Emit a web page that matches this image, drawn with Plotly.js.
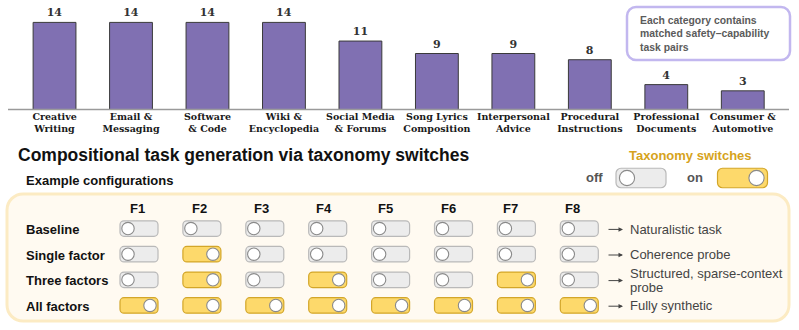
<!DOCTYPE html>
<html>
<head>
<meta charset="utf-8">
<script src="https://cdn.plot.ly/plotly-3.0.1.min.js"></script>
<style>html,body{margin:0;padding:0;background:#fff;}#chart{width:799px;height:330px;}</style>
</head>
<body>
<div id="chart"></div>
<script>
// ---- data ----
const categories = ["Creative<br>Writing", "Email &<br>Messaging", "Software<br>& Code", "Wiki &<br>Encyclopedia", "Social Media<br>& Forums", "Song Lyrics<br>Composition", "Interpersonal<br>Advice", "Procedural<br>Instructions", "Professional<br>Documents", "Consumer &<br>Automotive"];
const counts = [14, 14, 14, 14, 11, 9, 9, 8, 4, 3];
const noteLines = ["Each category contains", "matched safety\u2013capability", "task pairs"];

const panelTitle = "Compositional task generation via taxonomy switches";
const panelSubtitle = "Example configurations";
const legendTitle = "Taxonomy switches";
const legendStates = ["off", "on"];
const factors = ["F1", "F2", "F3", "F4", "F5", "F6", "F7", "F8"];
const configNames = ["Baseline", "Single factor", "Three factors", "All factors"];
const configStates = [
  [0, 0, 0, 0, 0, 0, 0, 0],
  [0, 1, 0, 0, 0, 0, 0, 0],
  [0, 1, 0, 1, 0, 0, 1, 0],
  [1, 1, 1, 1, 1, 1, 1, 1]
];
const outcomes = ["Naturalistic task", "Coherence probe", "Structured, sparse-context<br>probe", "Fully synthetic"];

// ---- styles ----
const W = 799, H = 330;
const SANS = "Liberation Sans, Arial, sans-serif";
const SERIF = "DejaVu Serif, serif";
const barColor = "#8070b2";
const onFill = "#fdd96b", onLine = "#d3a629";
const offFill = "#ececec", offLine = "#b9b9b9";
const gold = "#d6a31c";

function rr(x0, y0, x1, y1, r) {
  const k = 0.5523 * r;
  return `M${x0 + r},${y0} H${x1 - r} C${x1 - r + k},${y0} ${x1},${y0 + r - k} ${x1},${y0 + r} ` +
    `V${y1 - r} C${x1},${y1 - r + k} ${x1 - r + k},${y1} ${x1 - r},${y1} ` +
    `H${x0 + r} C${x0 + r - k},${y1} ${x0},${y1 - r + k} ${x0},${y1 - r} ` +
    `V${y0 + r} C${x0},${y0 + r - k} ${x0 + r - k},${y0} ${x0 + r},${y0} Z`;
}

const shapes = [];
const annotations = [];

// axis baseline
shapes.push({type: "line", xref: "x2", yref: "y2", x0: 8, x1: 789, y0: 109.5, y1: 109.5, line: {color: "#9a9a9a", width: 1.3}});

// note box
shapes.push({type: "path", xref: "x2", yref: "y2", path: rr(627, 7, 790, 60, 9), line: {color: "#c2b7ef", width: 2.5}, fillcolor: "#ffffff"});
noteLines.forEach((t, i) => {
  annotations.push({xref: "x2", yref: "y2", x: 637.5, y: 20.3 + i * 13.5, text: t, showarrow: false, xanchor: "left", yanchor: "middle",
    font: {family: SANS, size: 10.4, color: "#5b5b5b", weight: "bold"}});
});

// titles
annotations.push({xref: "x2", yref: "y2", x: 15.5, y: 155, text: panelTitle, showarrow: false, xanchor: "left", yanchor: "middle",
  font: {family: SANS, size: 17.5, color: "#111", weight: "bold"}});
annotations.push({xref: "x2", yref: "y2", x: 23.5, y: 180.5, text: panelSubtitle, showarrow: false, xanchor: "left", yanchor: "middle",
  font: {family: SANS, size: 13, color: "#111", weight: "bold"}});
annotations.push({xref: "x2", yref: "y2", x: 690, y: 155.5, text: legendTitle, showarrow: false, xanchor: "center", yanchor: "middle",
  font: {family: SANS, size: 13, color: gold, weight: "bold"}});

function toggle(cx, cy, w, h, r, kr, inset, on) {
  const x0 = cx - w / 2, x1 = cx + w / 2, y0 = cy - h / 2, y1 = cy + h / 2;
  shapes.push({type: "path", xref: "x2", yref: "y2", path: rr(x0, y0, x1, y1, r),
    fillcolor: on ? onFill : offFill, line: {color: on ? onLine : offLine, width: 1.2}});
  const kx = on ? x1 - inset : x0 + inset;
  shapes.push({type: "circle", xref: "x2", yref: "y2", x0: kx - kr, x1: kx + kr, y0: cy - kr, y1: cy + kr,
    fillcolor: "#ffffff", line: {color: "#8a8a8a", width: 1.1}});
}

// legend switches
const legendTextX = [594, 695];
const legendToggleX = [641, 742.5];
legendStates.forEach((s, i) => {
  annotations.push({xref: "x2", yref: "y2", x: legendTextX[i], y: 177, text: s, showarrow: false, xanchor: "center", yanchor: "middle",
    font: {family: SANS, size: 13, color: "#555", weight: "bold"}});
  toggle(legendToggleX[i], 178, 50, 19.5, 5, 7.6, 11, i === 1);
});

// panel
shapes.push({type: "path", xref: "x2", yref: "y2", path: rr(7, 194, 789, 321, 16), fillcolor: "#fffaf1", line: {color: "#fcebc3", width: 3}});

const colX0 = 139, colDX = 62.9;
const rowY0 = 228.6, rowDY = 25.6;
factors.forEach((f, j) => {
  annotations.push({xref: "x2", yref: "y2", x: 137.5 + j * 62.1, y: 208, text: f, showarrow: false, xanchor: "center", yanchor: "middle",
    font: {family: SANS, size: 13, color: "#111", weight: "bold"}});
});
configNames.forEach((name, i) => {
  const cy = rowY0 + i * rowDY;
  annotations.push({xref: "x2", yref: "y2", x: 24, y: cy + 0.8, text: name, showarrow: false, xanchor: "left", yanchor: "middle",
    font: {family: SANS, size: 13, color: "#111", weight: "bold"}});
  configStates[i].forEach((st, j) => {
    toggle(colX0 + j * colDX, cy, 38, 15.5, 4, 6.2, 8, st === 1);
  });
  annotations.push({xref: "x2", yref: "y2", axref: "x2", ayref: "y2", x: 623, y: cy + 0.8, ax: 607, ay: cy + 0.8, text: "",
    showarrow: true, arrowhead: 2, arrowsize: 0.9, arrowwidth: 1, arrowcolor: "#444"});
  const lines = outcomes[i].split("<br>");
  const lh = 14;
  lines.forEach((ln, k) => {
    annotations.push({xref: "x2", yref: "y2", x: 628, y: cy + 0.5 + (k - (lines.length - 1) / 2) * lh, text: ln, showarrow: false,
      xanchor: "left", yanchor: "middle", align: "left", font: {family: SANS, size: 13, color: "#444"}});
  });
});

const traces = [
  {type: "bar", x: categories, y: counts, text: counts.map(String), textposition: "outside", cliponaxis: false,
    textfont: {family: SERIF, size: 11, color: "#333", weight: "bold"},
    marker: {color: barColor, line: {color: "#3a3a3a", width: 1}}, hoverinfo: "none", xaxis: "x", yaxis: "y"},
  {type: "scatter", x: [], y: [], xaxis: "x2", yaxis: "y2", hoverinfo: "none", showlegend: false}
];

const layout = {
  width: W, height: H, margin: {l: 0, r: 0, t: 0, b: 0},
  paper_bgcolor: "#ffffff", plot_bgcolor: "rgba(0,0,0,0)",
  showlegend: false, bargap: 0.44,
  xaxis: {domain: [16.3 / W, 781 / W], range: [-0.5, 9.5], anchor: "y", showline: false, showgrid: false, zeroline: false, ticks: "",
    tickfont: {family: SERIF, size: 9.5, color: "#1a1a1a", weight: "bold"}, tickangle: 0, fixedrange: true},
  yaxis: {domain: [1 - 109.5 / H, 1], range: [0, 17.6], visible: false, fixedrange: true},
  xaxis2: {domain: [0, 1], range: [0, W], visible: false, anchor: "y2", fixedrange: true},
  yaxis2: {domain: [0, 1], range: [H, 0], visible: false, anchor: "x2", fixedrange: true},
  shapes: shapes, annotations: annotations
};

Plotly.newPlot("chart", traces, layout, {displayModeBar: false, staticPlot: true});
</script>
</body>
</html>
